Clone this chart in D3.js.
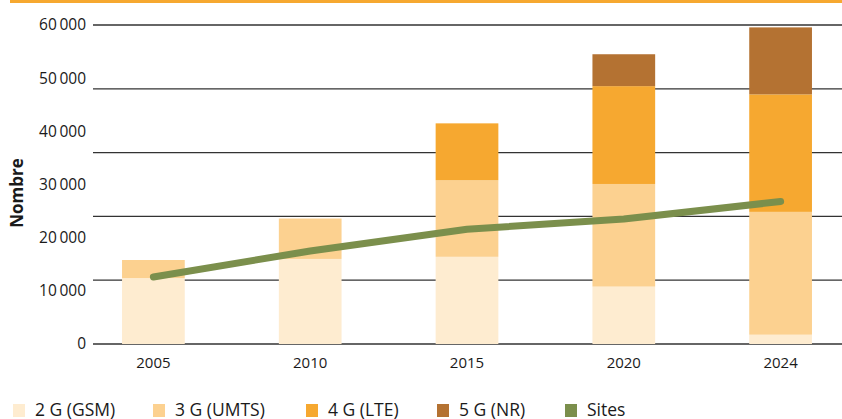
<!DOCTYPE html>
<html>
<head>
<meta charset="utf-8">
<script src="https://cdn.jsdelivr.net/npm/d3@7"></script>
<style>
  body { margin: 0; background: #fff; }
  text { font-family: "Open Sans", sans-serif; fill: #1a1a1a; }
</style>
</head>
<body>
<svg id="chart"></svg>
<script>
const years = ["2005", "2010", "2015", "2020", "2024"];
const gsm  = [12400, 16000, 16400, 10800, 1750];
const umts = [3400, 7600, 14400, 19300, 23100];
const lte  = [0, 0, 10700, 18400, 22100];
const nr   = [0, 0, 0, 6000, 12600];
const sites = [12600, 17500, 21600, 23500, 26800];
const yTicks = [0, 10000, 20000, 30000, 40000, 50000, 60000];
const gridValues = [0, 12000, 24000, 36000, 48000, 60000];

const seriesNames = ["2 G (GSM)", "3 G (UMTS)", "4 G (LTE)", "5 G (NR)"];
const colors = ["#feecd0", "#fcd190", "#f6a830", "#b47232"];
const siteColor = "#7b8f4c";

const W = 842, H = 419;
const svg = d3.select("#chart").attr("width", W).attr("height", H);

// top rule
svg.append("line")
  .attr("x1", 10).attr("x2", W).attr("y1", 1.5).attr("y2", 1.5)
  .attr("stroke", "#f6a830").attr("stroke-width", 3);

const x = d3.scaleBand()
  .domain(years)
  .range([75, 859])
  .paddingInner(0.6)
  .paddingOuter(0.3);

const y = d3.scaleLinear().domain([0, 60000]).range([344, 25]);

// grid
svg.append("g").selectAll("line")
  .data(gridValues)
  .join("line")
  .attr("x1", 93).attr("x2", W)
  .attr("y1", d => y(d)).attr("y2", d => y(d))
  .attr("stroke", "#333").attr("stroke-width", 1.3);

const table = years.map((yr, i) => ({ year: yr, s0: gsm[i], s1: umts[i], s2: lte[i], s3: nr[i] }));
const stack = d3.stack().keys(["s0", "s1", "s2", "s3"])(table);

svg.append("g").selectAll("g")
  .data(stack)
  .join("g")
  .attr("fill", (d, i) => colors[i])
  .selectAll("rect")
  .data(d => d.filter(p => p[1] > p[0]))
  .join("rect")
  .attr("x", d => x(d.data.year))
  .attr("width", x.bandwidth())
  .attr("y", d => y(d[1]))
  .attr("height", d => y(d[0]) - y(d[1]));

// sites line
const line = d3.line()
  .x((d, i) => x(years[i]) + x.bandwidth() / 2)
  .y(d => y(d));

svg.append("path")
  .datum(sites)
  .attr("d", line)
  .attr("fill", "none")
  .attr("stroke", siteColor)
  .attr("stroke-width", 7)
  .attr("stroke-linecap", "round")
  .attr("stroke-linejoin", "round");

// y axis labels
const fmt = d3.formatLocale({ decimal: ",", thousands: "\u2009", grouping: [3], currency: ["", ""] }).format(",");
const yAxis = svg.append("g")
  .attr("transform", "translate(86,0)")
  .call(d3.axisLeft(y).tickValues(yTicks).tickSize(0).tickPadding(0).tickFormat(fmt));
yAxis.select(".domain").remove();
yAxis.selectAll("text").style("font-size", "15.5px").style("font-family", "'Open Sans', sans-serif").attr("fill", "#1a1a1a");

// x axis labels
const xAxis = svg.append("g")
  .attr("transform", "translate(0,357)")
  .call(d3.axisBottom(x).tickSize(0).tickPadding(0));
xAxis.select(".domain").remove();
xAxis.selectAll("text").style("font-size", "15px").style("font-family", "'Open Sans', sans-serif").attr("fill", "#1a1a1a");

svg.append("text")
  .attr("transform", "translate(23,193) rotate(-90)")
  .attr("text-anchor", "middle")
  .style("font-size", "17px")
  .style("font-weight", "bold")
  .text("Nombre");

// legend
const legendItems = seriesNames.map((n, i) => ({ name: n, color: colors[i] }))
  .concat([{ name: "Sites", color: siteColor }]);
const legendX = [13, 153, 306, 437, 565];
const lg = svg.append("g").selectAll("g")
  .data(legendItems)
  .join("g")
  .attr("transform", (d, i) => `translate(${legendX[i]},404)`);
lg.append("rect").attr("width", 12).attr("height", 13).attr("fill", d => d.color);
lg.append("text")
  .attr("x", 22).attr("y", 12)
  .style("font-size", "17.5px")
  .text(d => d.name);
</script>
</body>
</html>
